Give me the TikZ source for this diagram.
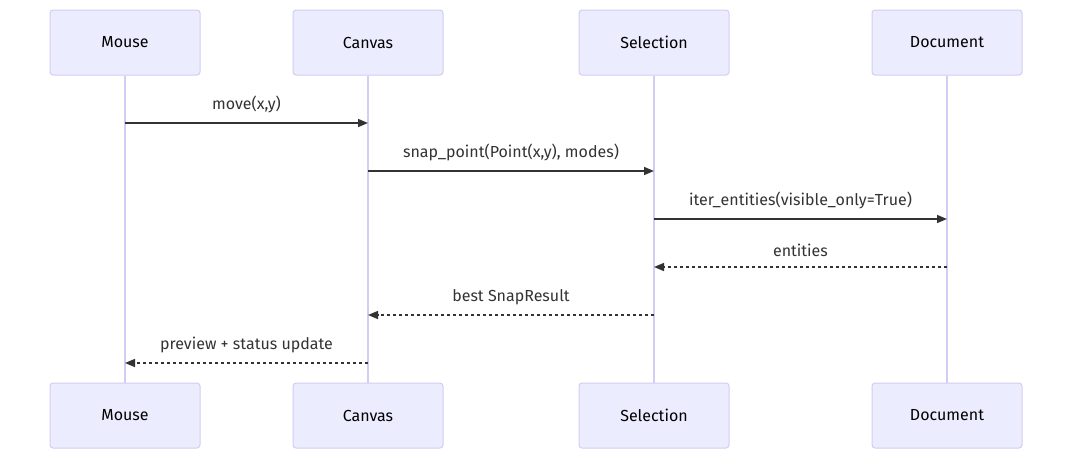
\documentclass[tikz,border=0pt]{standalone}
\usepackage{fontspec}
\setmainfont{Fira Sans}
\usepackage{tikz}
\usetikzlibrary{arrows.meta}

\definecolor{actfill}{HTML}{ECECFF}
\definecolor{actline}{HTML}{D4CCF2}
\definecolor{msgcol}{HTML}{333333}

\begin{document}
\begin{tikzpicture}[x=1pt, y=-1pt,
  actor/.style={draw=actline, fill=actfill, rounded corners=3pt, line width=1pt,
    minimum width=150pt, minimum height=65pt, font=\fontsize{16}{19}\selectfont},
  life/.style={draw=actline, line width=1.5pt},
  msg/.style={draw=msgcol, line width=1.5pt, -{Triangle[length=10pt,width=8pt]}},
  reply/.style={msg, dash pattern=on 3pt off 3pt},
  lab/.style={font=\fontsize{16}{19}\selectfont, text=msgcol}]
  \useasboundingbox (0,0) rectangle (1072,459);
  % actors, top and bottom
  \node[actor] (mouseT) at (125,42.5) {Mouse};
  \node[actor] (canvasT) at (368,42.5) {Canvas};
  \node[actor] (selT) at (654,42.5) {Selection};
  \node[actor] (docT) at (947,42.5) {Document};
  \node[actor] (mouseB) at (125,415.5) {Mouse};
  \node[actor] (canvasB) at (368,415.5) {Canvas};
  \node[actor] (selB) at (654,415.5) {Selection};
  \node[actor] (docB) at (947,415.5) {Document};
  % lifelines
  \draw[life] (mouseT) -- (mouseB);
  \draw[life] (canvasT) -- (canvasB);
  \draw[life] (selT) -- (selB);
  \draw[life] (docT) -- (docB);
  % messages
  \draw[msg] (mouseT |- 0,123) -- (canvasT |- 0,123)
    node[lab, midway, above=6pt] (l1) {move(x,y)};
  \draw[msg] (canvasT |- 0,171) -- (selT |- 0,171)
    node[lab, midway, above=6pt] (l2) {snap\_point(Point(x,y), modes)};
  \draw[msg] (selT |- 0,219) -- (docT |- 0,219)
    node[lab, midway, above=6pt] (l3) {iter\_entities(visible\_only=True)};
  \draw[reply] (docT |- 0,267) -- (selT |- 0,267)
    node[lab, midway, above=6pt] (l4) {entities};
  \draw[reply] (selT |- 0,315) -- (canvasT |- 0,315)
    node[lab, midway, above=6pt] (l5) {best SnapResult};
  \draw[reply] (canvasT |- 0,363) -- (mouseT |- 0,363)
    node[lab, midway, above=6pt] (l6) {preview + status update};
\end{tikzpicture}
\end{document}
